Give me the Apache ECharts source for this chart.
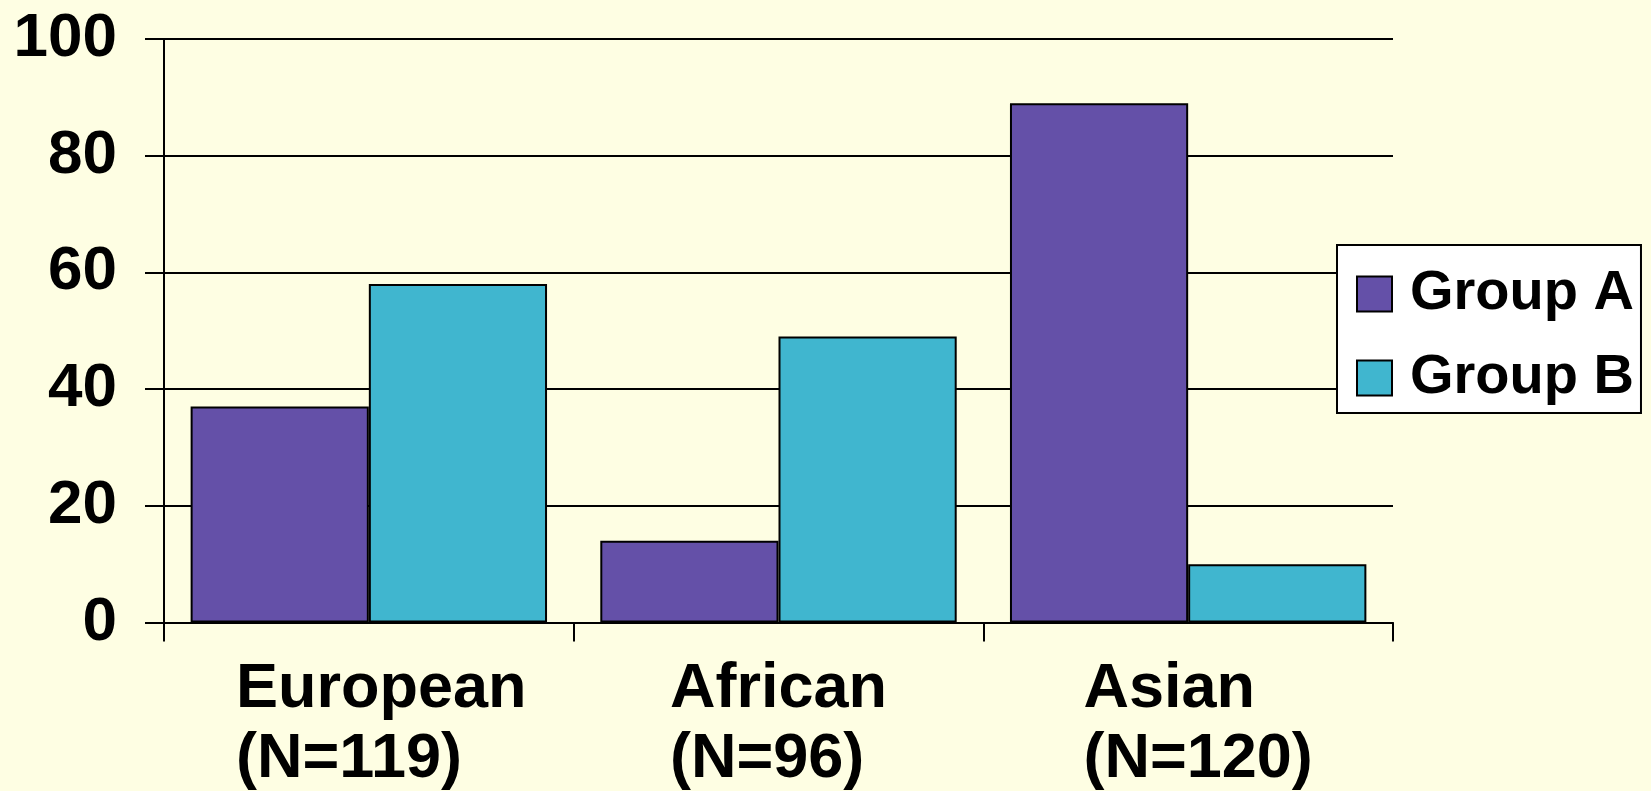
<!DOCTYPE html>
<html>
<head>
<meta charset="utf-8">
<script src="https://cdn.jsdelivr.net/npm/echarts@6/dist/echarts.min.js"></script>
<style>
  html, body { margin: 0; padding: 0; background: #FEFEE3; }
  #chart { width: 1651px; height: 791px; }
</style>
</head>
<body>
<div id="chart"></div>
<script>
// Populations and their sample sizes
const populations = ['European', 'African', 'Asian'];
const sampleSizes = [119, 96, 120];

// Percentages per group
const groupA = [37, 14, 89];
const groupB = [58, 49, 10];

// Value axis ticks
const yMin = 0;
const yMax = 100;
const yStep = 20;

const FONT = '"Liberation Sans", Arial, Helvetica, sans-serif';
const labelShift = [25, 0, 20];

const categories = populations.map((name, i) => ({
  value: name + '\n(N=' + sampleSizes[i] + ')',
  textStyle: { padding: [0, 0, 0, labelShift[i]] }
}));

const chart = echarts.init(document.getElementById('chart'), null, { renderer: 'canvas' });

chart.setOption({
  backgroundColor: '#FEFEE3',
  animation: false,
  textStyle: { fontFamily: FONT },
  grid: { left: 164, right: 258, top: 39, bottom: 167.5, containLabel: false },
  legend: {
    orient: 'vertical',
    left: 1337,
    top: 245,
    padding: [21, 7, 7, 19],
    backgroundColor: '#FFFFFF',
    borderColor: '#000000',
    borderWidth: 2,
    borderRadius: 0,
    itemWidth: 35,
    itemHeight: 35,
    itemGap: 28,
    icon: 'rect',
    textStyle: {
      fontFamily: FONT,
      fontWeight: 'bold',
      fontSize: 56,
      lineHeight: 50,
      color: '#000000',
      padding: [0, 0, 0, 13]
    },
    data: ['Group A', 'Group B']
  },
  xAxis: {
    type: 'category',
    data: categories,
    boundaryGap: true,
    axisLine: { show: true, lineStyle: { color: '#000000', width: 2 } },
    axisTick: { show: true, length: 19, alignWithLabel: false, lineStyle: { color: '#000000', width: 2 } },
    axisLabel: {
      margin: 32,
      color: '#000000',
      formatter: (v) => v.split('\n').map(s => '{t|' + s + '}').join('\n'),
      rich: {
        t: {
          fontFamily: FONT,
          fontWeight: 'bold',
          fontSize: 63,
          lineHeight: 70,
          color: '#000000',
          align: 'left'
        }
      }
    },
    splitLine: { show: false }
  },
  yAxis: {
    type: 'value',
    min: yMin,
    max: yMax,
    interval: yStep,
    axisLine: { show: true, lineStyle: { color: '#000000', width: 2 } },
    axisTick: { show: true, length: 19, lineStyle: { color: '#000000', width: 2 } },
    axisLabel: {
      margin: 47,
      color: '#000000',
      fontFamily: FONT,
      fontWeight: 'bold',
      fontSize: 62
    },
    splitLine: { show: true, lineStyle: { color: '#000000', width: 2 } }
  },
  series: [
    {
      name: 'Group A',
      type: 'bar',
      data: groupA,
      barGap: '0%',
      barCategoryGap: '13%',
      itemStyle: { color: '#6450A8', borderColor: '#000000', borderWidth: 2 }
    },
    {
      name: 'Group B',
      type: 'bar',
      data: groupB,
      barGap: '0%',
      barCategoryGap: '13%',
      itemStyle: { color: '#40B6CF', borderColor: '#000000', borderWidth: 2 }
    }
  ]
});
</script>
</body>
</html>
